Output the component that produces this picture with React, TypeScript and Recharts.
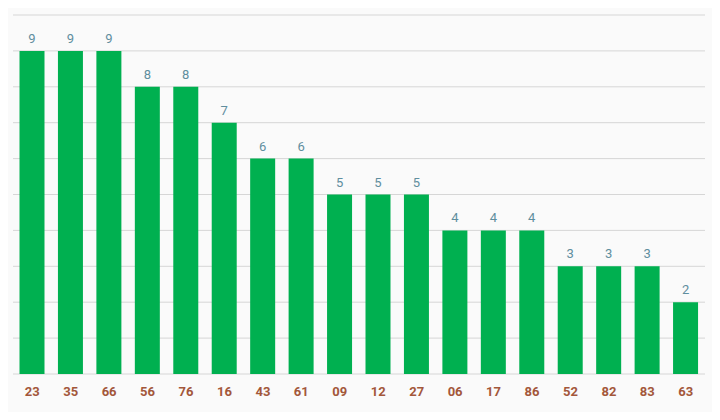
import { BarChart, Bar, XAxis, YAxis, CartesianGrid, LabelList } from 'recharts';

const numbers = ['23', '35', '66', '56', '76', '16', '43', '61', '09', '12', '27', '06', '17', '86', '52', '82', '83', '63'];
const counts = [9, 9, 9, 8, 8, 7, 6, 6, 5, 5, 5, 4, 4, 4, 3, 3, 3, 2];
const yTicks = [0, 1, 2, 3, 4, 5, 6, 7, 8, 9, 10];

const data = numbers.map((n, i) => ({ name: n, count: counts[i] }));

export default function App() {
  return (
    <div style={{ position: 'relative', width: 720, height: 420, margin: -8, background: '#fff', fontFamily: 'Roboto, sans-serif' }}>
      <div style={{ position: 'absolute', left: 0, top: 6, width: 716, height: 406, background: '#fafafa' }} />
      <div style={{ position: 'absolute', left: 0, top: 0 }}>
        <BarChart
          width={720}
          height={420}
          data={data}
          margin={{ top: 15, right: 15, bottom: 16, left: 13 }}
          barCategoryGap={6.5}
        >
          <CartesianGrid vertical={false} stroke="#d6d6d6" strokeWidth={1} />
          <YAxis hide domain={[0, 10]} ticks={yTicks} />
          <XAxis
            dataKey="name"
            height={30}
            axisLine={false}
            tickLine={false}
            interval={0}
            tick={{ fill: '#a3573a', fontSize: 13, fontWeight: 700 }}
            dy={5}
          />
          <Bar dataKey="count" fill="#00b050" isAnimationActive={false}>
            <LabelList dataKey="count" position="top" offset={8} fill="#5f8e9e" fontSize={13} />
          </Bar>
        </BarChart>
      </div>
    </div>
  );
}
